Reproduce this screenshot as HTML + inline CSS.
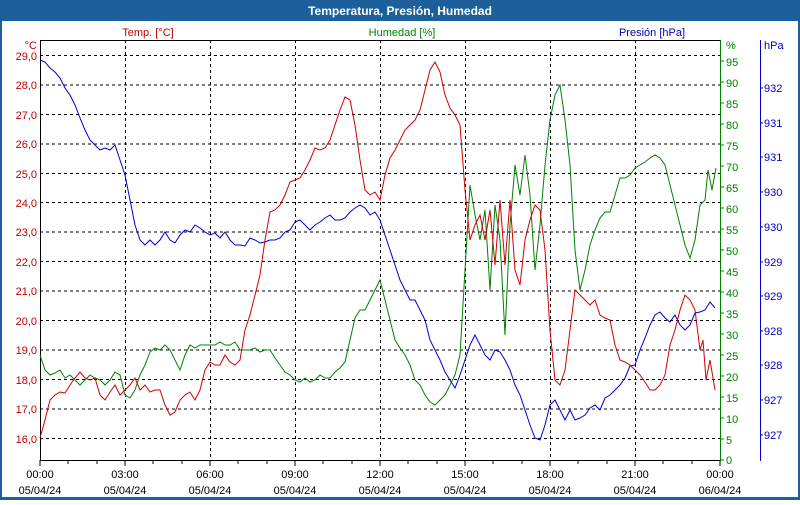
<!DOCTYPE html>
<html><head><meta charset="utf-8"><style>
body{margin:0;width:800px;height:500px;overflow:hidden;background:#fff;font-family:"Liberation Sans","DejaVu Sans",sans-serif}
</style></head><body>
<svg width="800" height="500" xmlns="http://www.w3.org/2000/svg" font-family="Liberation Sans, DejaVu Sans, sans-serif" font-size="11">
<rect x="0" y="0" width="800" height="500" fill="#1d5f9a"/>
<rect x="2" y="21" width="796" height="476" fill="#fff"/>
<text x="400" y="15" text-anchor="middle" fill="#fff" font-weight="bold" font-size="12">Temperatura, Presión, Humedad</text>
<text x="148" y="36" text-anchor="middle" fill="#c00000">Temp. [°C]</text>
<text x="402" y="36" text-anchor="middle" fill="#008000">Humedad [%]</text>
<text x="652" y="36" text-anchor="middle" fill="#0000c0">Presión [hPa]</text>
<g stroke="#000" stroke-dasharray="3,3" stroke-width="1">
<line x1="40" x2="720" y1="55.5" y2="55.5"/><line x1="40" x2="720" y1="85" y2="85"/><line x1="40" x2="720" y1="114.5" y2="114.5"/><line x1="40" x2="720" y1="144" y2="144"/><line x1="40" x2="720" y1="173.5" y2="173.5"/><line x1="40" x2="720" y1="202.5" y2="202.5"/><line x1="40" x2="720" y1="232" y2="232"/><line x1="40" x2="720" y1="261.5" y2="261.5"/><line x1="40" x2="720" y1="291" y2="291"/><line x1="40" x2="720" y1="320.5" y2="320.5"/><line x1="40" x2="720" y1="350" y2="350"/><line x1="40" x2="720" y1="379.5" y2="379.5"/><line x1="40" x2="720" y1="409" y2="409"/><line x1="40" x2="720" y1="438.5" y2="438.5"/>
<line y1="40" y2="460" x1="125.5" x2="125.5"/><line y1="40" y2="460" x1="210.5" x2="210.5"/><line y1="40" y2="460" x1="295.5" x2="295.5"/><line y1="40" y2="460" x1="380.5" x2="380.5"/><line y1="40" y2="460" x1="465.5" x2="465.5"/><line y1="40" y2="460" x1="550.5" x2="550.5"/><line y1="40" y2="460" x1="635.5" x2="635.5"/>
</g>
<path d="M40.5 40.5H720.5M40.5 40V460.5H720" stroke="#000" fill="none"/>
<line x1="720.5" y1="40" x2="720.5" y2="461" stroke="#008000"/>
<line x1="760.5" y1="40" x2="760.5" y2="461" stroke="#0000c0"/>
<g fill="#c00000" text-anchor="end">
<text x="37" y="49">°C</text>
<text x="37" y="60">29,0</text><text x="37" y="89">28,0</text><text x="37" y="119">27,0</text><text x="37" y="148">26,0</text><text x="37" y="178">25,0</text><text x="37" y="207">24,0</text><text x="37" y="236">23,0</text><text x="37" y="266">22,0</text><text x="37" y="295">21,0</text><text x="37" y="325">20,0</text><text x="37" y="354">19,0</text><text x="37" y="384">18,0</text><text x="37" y="413">17,0</text><text x="37" y="443">16,0</text>
</g>
<g fill="#000" text-anchor="middle">
<text x="40" y="478">00:00</text><text x="40" y="494">05/04/24</text>
<text x="125" y="478">03:00</text><text x="125" y="494">05/04/24</text>
<text x="210" y="478">06:00</text><text x="210" y="494">05/04/24</text>
<text x="295" y="478">09:00</text><text x="295" y="494">05/04/24</text>
<text x="380" y="478">12:00</text><text x="380" y="494">05/04/24</text>
<text x="465" y="478">15:00</text><text x="465" y="494">05/04/24</text>
<text x="550" y="478">18:00</text><text x="550" y="494">05/04/24</text>
<text x="635" y="478">21:00</text><text x="635" y="494">05/04/24</text>
<text x="720" y="478">00:00</text><text x="720" y="494">06/04/24</text>
</g>
<path d="M40 460v6M68 460v4M97 460v4M125 460v6M153 460v4M182 460v4M210 460v6M238 460v4M267 460v4M295 460v6M323 460v4M352 460v4M380 460v6M408 460v4M437 460v4M465 460v6M493 460v4M522 460v4M550 460v6M578 460v4M607 460v4M635 460v6M663 460v4M692 460v4M720 460v6" stroke="#000"/>
<g fill="#008000">
<text x="726" y="49">%</text>
<text x="726" y="464">0</text><text x="726" y="444">5</text><text x="726" y="423">10</text><text x="726" y="402">15</text><text x="726" y="381">20</text><text x="726" y="360">25</text><text x="726" y="339">30</text><text x="726" y="318">35</text><text x="726" y="297">40</text><text x="726" y="276">45</text><text x="726" y="255">50</text><text x="726" y="234">55</text><text x="726" y="213">60</text><text x="726" y="192">65</text><text x="726" y="171">70</text><text x="726" y="150">75</text><text x="726" y="129">80</text><text x="726" y="108">85</text><text x="726" y="87">90</text><text x="726" y="66">95</text>
</g>
<g fill="#0000c0">
<text x="764" y="49">hPa</text>
<text x="764" y="92">932</text><text x="764" y="127">931</text><text x="764" y="161">931</text><text x="764" y="196">930</text><text x="764" y="231">930</text><text x="764" y="266">929</text><text x="764" y="300">929</text><text x="764" y="335">928</text><text x="764" y="369">928</text><text x="764" y="404">927</text><text x="764" y="439">927</text>
</g>
<path d="M760 88h3M760 123h3M760 157h3M760 192h3M760 227h3M760 262h3M760 296h3M760 331h3M760 365h3M760 400h3M760 435h3" stroke="#0000c0"/>
<path d="M720 460h4M720 439h4M720 418h4M720 397h4M720 376h4M720 355h4M720 334h4M720 313h4M720 292h4M720 271h4M720 250h4M720 229h4M720 208h4M720 187h4M720 166h4M720 145h4M720 124h4M720 103h4M720 82h4M720 61h4" stroke="#008000"/>
<polyline fill="none" stroke="#0000d0" points="40,60 45,62 50,68 55,72 60,78 65,88 70,95 75,105 80,118 85,130 90,140 95,145 100,150 105,148 110,150 115,145 120,160 125,175 130,200 135,225 140,240 145,245 150,240 155,245 160,240 165,232 170,240 175,243 180,235 185,230 190,232 195,225 200,228 205,232 210,235 215,233 220,238 225,232 230,240 235,245 240,245 245,246 250,238 255,240 260,243 265,242 270,240 275,240 280,238 285,232 290,230 295,222 300,220 305,225 310,230 315,225 320,222 325,218 330,215 335,220 340,220 345,218 350,212 355,208 360,205 365,208 370,215 375,212 380,220 385,235 390,250 395,265 400,280 405,290 410,300 415,300 420,310 425,320 430,340 435,350 440,360 445,372 450,380 455,388 460,375 465,360 470,345 475,335 480,345 485,355 490,360 495,350 500,352 505,360 510,370 515,385 520,395 525,410 530,425 535,438 540,440 545,425 550,405 555,400 560,410 565,420 570,410 575,420 580,418 585,415 590,408 595,405 600,410 605,398 610,395 615,390 620,385 625,378 630,366 635,365 640,350 645,338 650,325 655,315 660,312 665,318 670,322 675,315 680,325 685,330 690,325 695,313 700,312 705,310 710,302 715,308"/>
<polyline fill="none" stroke="#008000" points="40,355 45,370 50,375 55,373 60,370 65,378 70,375 75,380 80,385 85,380 90,375 95,378 100,380 105,385 110,380 115,372 120,375 125,395 130,398 135,390 140,375 145,365 150,352 155,348 160,350 165,345 170,350 175,360 180,370 185,355 190,345 195,348 200,345 205,345 210,345 215,345 220,342 225,345 230,345 235,342 240,350 245,350 250,350 255,348 260,352 265,350 270,350 275,358 280,365 285,372 290,375 295,380 300,382 305,378 310,382 315,380 320,375 325,378 330,378 335,372 340,368 345,362 350,340 355,318 360,310 365,310 370,300 375,290 380,280 385,300 390,320 395,340 400,348 405,355 410,365 415,380 420,385 425,395 430,402 435,405 440,400 445,395 450,385 455,375 460,355 465,270 470,185 475,215 480,240 485,210 490,290 495,205 500,240 505,335 510,225 515,165 520,195 525,155 530,195 535,270 540,225 545,165 550,120 555,95 560,85 565,120 570,165 575,250 580,290 585,270 590,245 595,230 600,218 605,212 610,212 615,195 620,178 625,178 630,175 635,168 640,165 645,162 650,158 655,155 660,158 665,165 670,185 675,205 680,225 685,245 690,258 695,240 700,205 705,200 708,170 712,190 716,168"/>
<polyline fill="none" stroke="#d00000" points="40,438 45,420 50,400 55,395 60,392 65,393 70,385 75,378 80,372 85,378 90,380 95,378 100,395 105,400 110,392 115,385 120,395 125,390 130,385 135,378 140,390 145,385 150,392 155,390 160,390 165,405 170,415 175,412 180,400 185,395 190,392 195,400 200,390 205,370 210,362 215,365 220,365 225,355 230,362 235,365 240,360 245,330 250,315 255,295 260,275 265,240 270,212 275,210 280,205 285,195 290,182 295,180 300,178 305,170 310,160 315,148 320,150 325,148 330,140 335,125 340,110 345,97 350,100 355,125 360,160 365,190 370,195 375,192 380,200 385,175 390,158 395,150 400,140 405,130 410,125 415,120 420,110 425,90 430,70 435,62 440,72 445,95 450,108 455,115 460,125 465,190 470,240 475,225 480,215 485,240 490,210 495,265 500,200 505,265 510,200 515,270 520,285 525,240 530,220 535,205 540,210 545,250 550,330 555,380 560,385 565,370 570,330 575,290 580,295 585,300 590,305 595,300 600,315 605,318 610,320 615,345 620,360 625,362 630,365 635,370 640,375 645,382 650,390 655,390 660,385 665,375 670,345 675,330 680,310 685,295 690,300 695,310 700,350 703,340 706,380 710,360 715,390"/>
</svg>
</body></html>
